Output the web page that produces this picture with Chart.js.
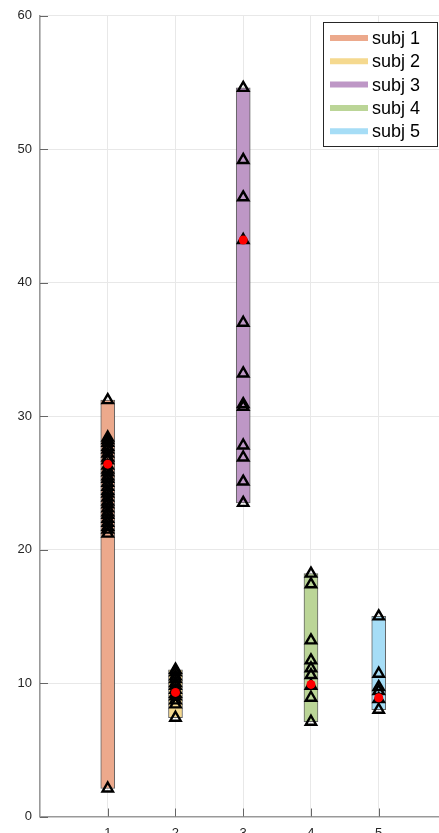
<!DOCTYPE html>
<html>
<head>
<meta charset="utf-8">
<script src="https://cdn.jsdelivr.net/npm/chart.js@4.4.1/dist/chart.umd.min.js"></script>
<style>
    html, body { margin: 0; padding: 0; background: #fff; }
    #wrap { width: 439px; height: 833px; position: relative; }
</style>
</head>
<body>
<div id="wrap"><canvas id="myChart"></canvas></div>
<script>
// subjects and their session values
const subjects = ['subj 1', 'subj 2', 'subj 3', 'subj 4', 'subj 5'];
const subjX = [1, 2, 3, 4, 5];
const subjColors = ['#eca98c', '#f5d98f', '#be97c6', '#bbd597', '#a6ddf6'];

const subj1Values = [31.2, 28.4, 28.2, 28.0, 27.7, 27.5, 27.2, 26.9, 26.7, 26.3, 26.0, 25.8, 25.5, 25.3, 25.0, 24.7, 24.4, 24.2, 23.9, 23.6, 23.4, 23.1, 22.8, 22.6, 22.3, 22.0, 21.7, 21.5, 21.2, 2.1];
const subj2Values = [11.0, 10.8, 10.5, 10.3, 10.0, 9.8, 9.5, 9.2, 9.0, 8.7, 8.4, 7.4];
const subj3Values = [54.6, 49.2, 46.4, 43.2, 37.0, 33.2, 30.9, 30.7, 27.8, 26.9, 25.1, 23.5];
const subj4Values = [18.2, 17.4, 13.2, 11.7, 11.1, 10.6, 9.8, 8.9, 7.1];
const subj5Values = [15.0, 10.7, 9.7, 9.4, 8.8, 8.0];

// highlighted (red) value per subject
const redValues = [26.4, 9.3, 43.2, 9.9, 8.9];

const yTicks = [0, 10, 20, 30, 40, 50, 60];

const allValues = [subj1Values, subj2Values, subj3Values, subj4Values, subj5Values];

let datasets = [];

subjects.map((name, i) => {
    const vals = allValues[i];
    datasets.push({
        type: 'bar',
        label: name,
        data: [{ x: subjX[i], y: [Math.min(...vals), Math.max(...vals)] }],
        backgroundColor: subjColors[i],
        borderColor: 'rgba(70,70,70,0.85)',
        borderWidth: 1,
        borderSkipped: false,
        barThickness: 14,
        grouped: false,
        order: 3
    });
});

subjects.map((name, i) => {
    datasets.push({
        type: 'scatter',
        label: name + ' points',
        data: allValues[i].map(v => ({ x: subjX[i], y: v })),
        pointStyle: 'triangle',
        pointRadius: 6,
        pointBorderWidth: 2.4,
        pointBorderColor: '#000',
        pointBackgroundColor: 'rgba(0,0,0,0)',
        order: 2
    });
});

datasets.push({
    type: 'scatter',
    label: 'red',
    data: redValues.map((v, i) => ({ x: subjX[i], y: v })),
    pointStyle: 'circle',
    pointRadius: 4.5,
    pointBorderWidth: 0,
    pointBackgroundColor: '#ff0000',
    order: 1
});

// inward tick marks and the boxed legend
const axisExtras = {
    id: 'axisExtras',
    afterDraw(chart) {
        const ctx = chart.ctx;
        const area = chart.chartArea;
        const xs = chart.scales.x;
        const ys = chart.scales.y;
        ctx.save();
        ctx.strokeStyle = '#666';
        ctx.lineWidth = 1;
        ctx.beginPath();
        yTicks.map(t => {
            const py = Math.round(ys.getPixelForValue(t)) + 0.5;
            ctx.moveTo(area.left, py);
            ctx.lineTo(area.left + 8, py);
        });
        subjX.map(t => {
            const px = Math.round(xs.getPixelForValue(t)) + 0.5;
            ctx.moveTo(px, area.bottom);
            ctx.lineTo(px, area.bottom - 8);
        });
        ctx.stroke();

        // legend
        const lx = 323, ly = 22, lw = 114, lh = 124;
        ctx.fillStyle = '#fff';
        ctx.fillRect(lx, ly, lw, lh);
        ctx.strokeStyle = '#262626';
        ctx.lineWidth = 1;
        ctx.strokeRect(lx + 0.5, ly + 0.5, lw, lh);
        ctx.font = '18px "Liberation Sans", Arial, sans-serif';
        ctx.textBaseline = 'middle';
        ctx.textAlign = 'left';
        subjects.map((name, i) => {
            const cy = 38 + i * 23.3;
            ctx.strokeStyle = subjColors[i];
            ctx.lineWidth = 6;
            ctx.beginPath();
            ctx.moveTo(330, cy);
            ctx.lineTo(368, cy);
            ctx.stroke();
            ctx.fillStyle = '#000';
            ctx.fillText(name, 372, cy + 1);
        });
        ctx.restore();
    }
};

const tickFont = { family: '"Liberation Sans", Arial, sans-serif', size: 13 };

const config = {
    type: 'bar',
    data: { datasets: datasets },
    plugins: [axisExtras],
    options: {
        responsive: true,
        maintainAspectRatio: false,
        animation: false,
        layout: { autoPadding: false, padding: { top: 13, right: 0, left: 0, bottom: 0 } },
        plugins: {
            legend: { display: false },
            tooltip: { enabled: false }
        },
        scales: {
            x: {
                type: 'linear',
                min: 0,
                max: 5.89,
                offset: false,
                afterBuildTicks: s => { s.ticks = [0].concat(subjX).map(v => ({ value: v })); },
                afterFit: s => { s.height = 16.5; },
                ticks: {
                    callback: v => (v === 0 ? '' : v),
                    font: tickFont,
                    color: '#262626',
                    padding: 9,
                    maxRotation: 0,
                    autoSkip: false
                },
                grid: { color: '#e8e8e8', drawTicks: false, offset: false },
                border: { color: '#999', width: 1.5 }
            },
            y: {
                min: 0,
                max: 60,
                afterBuildTicks: s => { s.ticks = yTicks.map(v => ({ value: v })); },
                afterFit: s => { s.width = 40; },
                ticks: {
                    font: tickFont,
                    color: '#262626',
                    padding: 8
                },
                grid: { color: '#e8e8e8', drawTicks: false },
                border: { color: '#999', width: 1.5 }
            }
        }
    }
};

const myChart = new Chart(document.getElementById('myChart').getContext('2d'), config);
</script>
</body>
</html>
